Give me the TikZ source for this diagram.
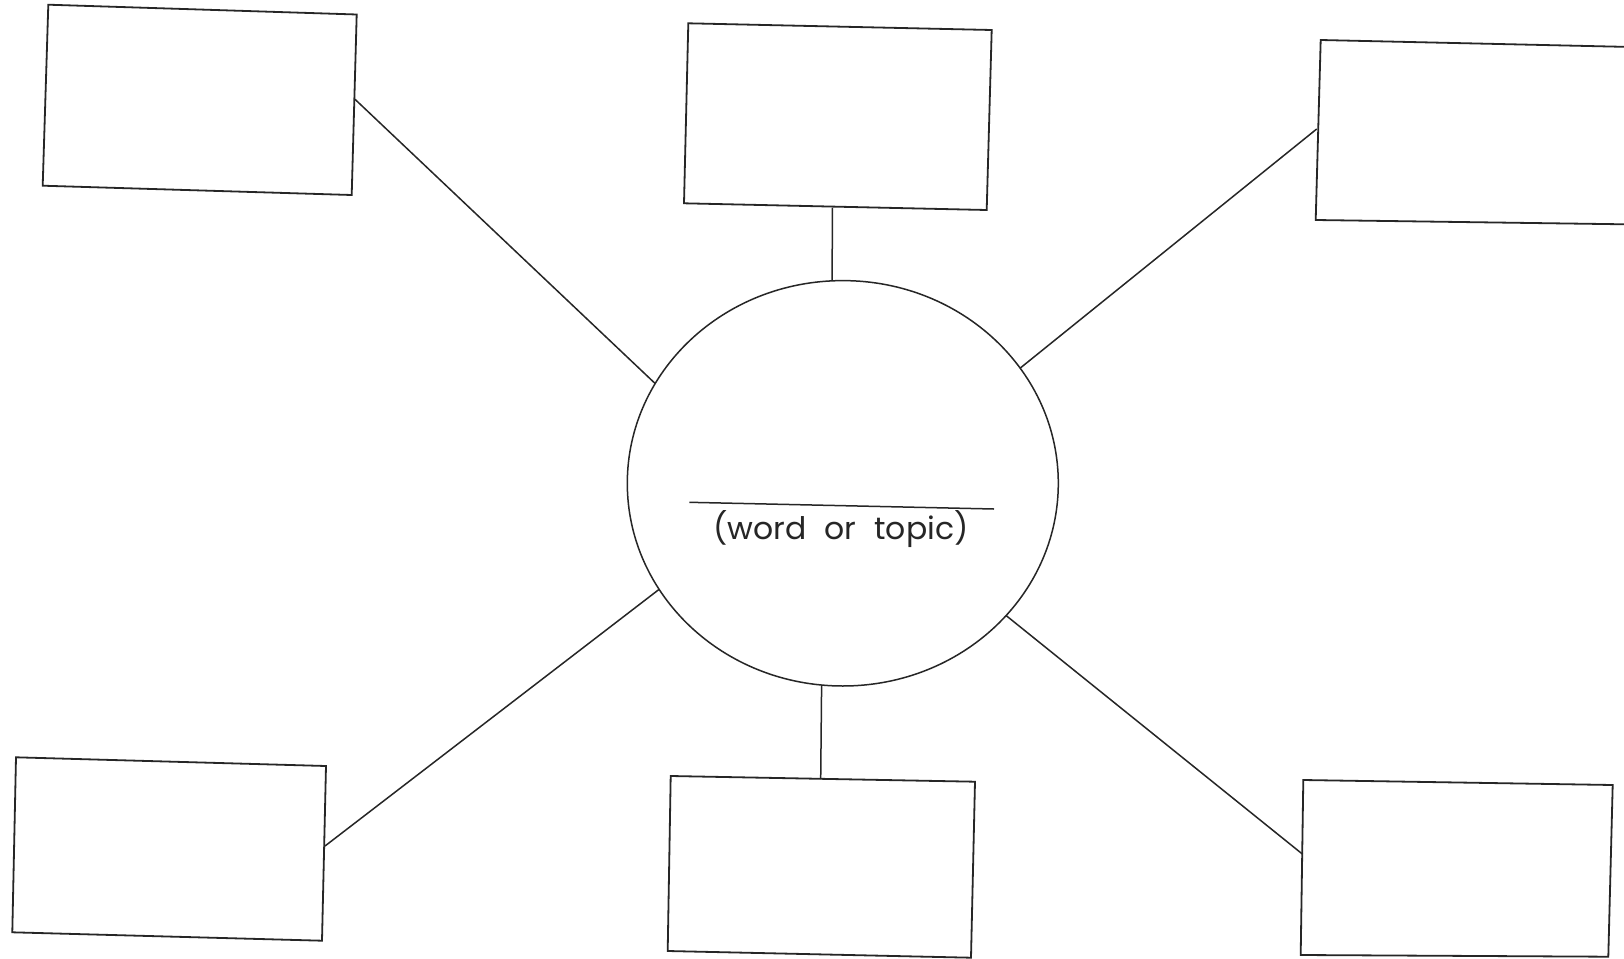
\documentclass[tikz,border=0pt]{standalone}
\usepackage{fontspec}
\setmainfont{Poppins}
\usetikzlibrary{shapes.geometric}
\tikzset{
  boxline/.style={draw=black!85, line width=0.9pt, line join=miter},
  spoke/.style={draw=black!85, line width=0.75pt},
  hub/.style={draw=black!85, line width=0.75pt, ellipse, inner sep=0pt, outer sep=0pt,
    minimum width=215.5pt, minimum height=202.7pt}
}
\begin{document}
\begin{tikzpicture}[x=0.5pt,y=-0.5pt]
\useasboundingbox (0,0) rectangle (1624,959);
\clip (0,0) rectangle (1624,959);
\fill[white] (0,0) rectangle (1624,959);
% boxes (corner coordinates)
\coordinate (tla) at (48.3,4.7);   \coordinate (tlb) at (356.7,14.5);
\coordinate (tlc) at (351.7,195);  \coordinate (tld) at (42.7,185.7);
\coordinate (tma) at (688.3,23.3); \coordinate (tmb) at (991.7,30);
\coordinate (tmc) at (986.7,210);  \coordinate (tmd) at (684,203.3);
\coordinate (tra) at (1320.7,40);  \coordinate (trb) at (1632,47);
\coordinate (trc) at (1632,224.4); \coordinate (trd) at (1315.7,220);
\coordinate (bla) at (16,757.3);   \coordinate (blb) at (326,766);
\coordinate (blc) at (322,940.7);  \coordinate (bld) at (12.3,932.3);
\coordinate (bma) at (670.7,776);  \coordinate (bmb) at (975,781.7);
\coordinate (bmc) at (971,957.7);  \coordinate (bmd) at (667.7,951);
\coordinate (bra) at (1303.3,780); \coordinate (brb) at (1612.7,785);
\coordinate (brc) at (1608.3,956.7); \coordinate (brd) at (1300.7,955);
\draw[boxline] (tla) -- (tlb) -- (tlc) -- (tld) -- cycle;
\draw[boxline] (tma) -- (tmb) -- (tmc) -- (tmd) -- cycle;
\draw[boxline] (trb) -- (tra) -- (trd) -- (trc);
\draw[boxline] (bla) -- (blb) -- (blc) -- (bld) -- cycle;
\draw[boxline] (bma) -- (bmb) -- (bmc) -- (bmd) -- cycle;
\draw[boxline] (bra) -- (brb) -- (brc) -- (brd) -- cycle;
% central circle
\node[hub] (c) at (842.8,483.3) {};
% connector ends on the boxes
\coordinate (tlp) at (355,99.3);
\coordinate (tmp) at (832.3,207.7);
\coordinate (trp) at (1316.7,129);
\coordinate (blp) at (325,846);
\coordinate (bmp) at (820.7,779);
\coordinate (brp) at (1302.7,854.3);
\draw[spoke] (tlp) -- (c.152.5);
\draw[spoke] (tmp) -- (c.93.4);
\draw[spoke] (trp) -- (c.33.5);
\draw[spoke] (blp) -- (c.210.6);
\draw[spoke] (bmp) -- (c.264.2);
\draw[spoke] (brp) -- (c.321.7);
% label line and text
\coordinate (ul) at (689.3,502.3);
\coordinate (ur) at (994,509);
\draw[spoke] (ul) -- (ur);
\node[anchor=base, inner sep=0pt, text=black!85] (lbl) at (841,539)
  {\resizebox{127.5pt}{14.5pt}{\fontsize{20}{24}\selectfont (word\hspace{0.3em} or\hspace{0.3em} topic)}};
\end{tikzpicture}
\end{document}
